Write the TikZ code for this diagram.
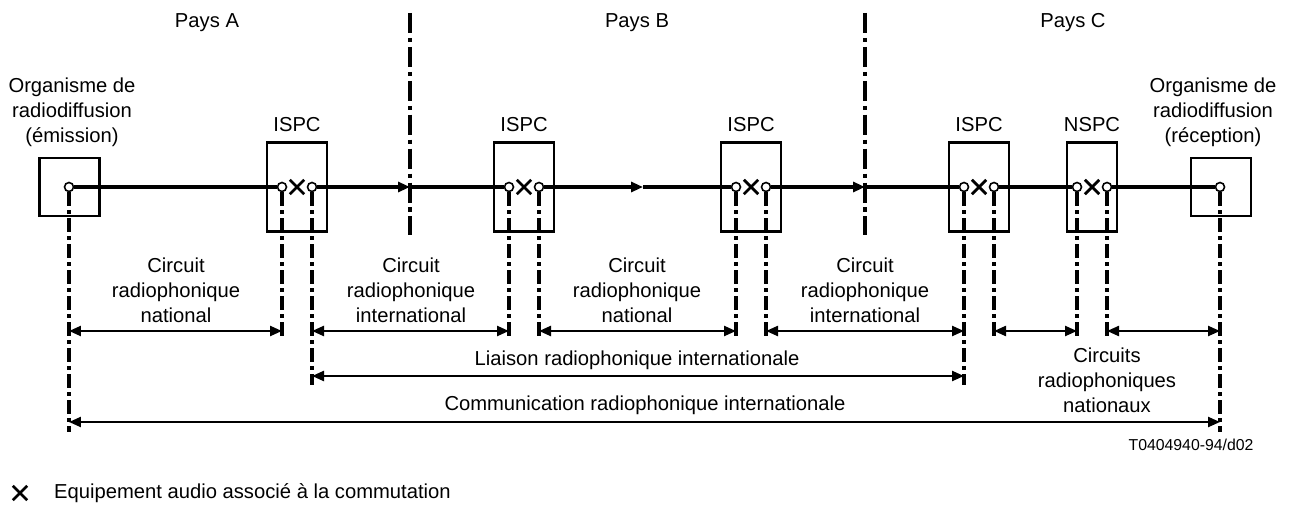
\documentclass[tikz,border=0pt]{standalone}
\usepackage{fontspec}
\setmainfont{Liberation Sans}
\usetikzlibrary{arrows.meta, shapes.misc}

\begin{document}
\begin{tikzpicture}[x=0.02cm, y=-0.02cm, >={Triangle[length=0.24cm,width=0.2cm]},
    font=\fontsize{11.5}{14.2}\selectfont,
    box/.style={draw, line width=1.3pt, minimum height=1.78cm, minimum width=1.2cm, inner sep=0},
    port/.style={circle, draw, fill=white, line width=0.9pt, minimum size=0.18cm, inner sep=0},
    swx/.style={cross out, draw, line width=1.6pt, minimum size=0.23cm, inner sep=0},
    trunk/.style={line width=2pt},
    drop/.style={line width=2pt, dash pattern=on 8pt off 2.2pt on 2.4pt off 2.2pt},
    border/.style={line width=2.7pt, dash pattern=on 11.4pt off 2.8pt on 2.3pt off 2.8pt},
    dim/.style={<->, line width=1.3pt},
    lbl/.style={align=center}]
    \useasboundingbox (0,0) rectangle (1300,506);
    \node (paysA) at (207,23) {Pays A};
    \node (paysB) at (637,23) {Pays B};
    \node (paysC) at (1073,23) {Pays C};
    \node[box, minimum height=1.16cm] (em) at (69.5,187) {};
    \node[port] (emo) at (69,187) {};
    \node[lbl] (em-t) at (72,112) {Organisme de\\radiodiffusion\\(émission)};
    \node[box, minimum height=1.16cm] (rc) at (1221,187) {};
    \node[port] (rco) at (1220,187) {};
    \node[lbl] (rc-t) at (1213,112) {Organisme de\\radiodiffusion\\(réception)};
    \foreach \n/\x/\w/\t in {i1/297/1.2/ISPC, i2/524/1.2/ISPC, i3/751/1.2/ISPC, i4/979/1.2/ISPC, n1/1092/1.0/NSPC} {
      \node[box, minimum width=\w cm] (\n) at (\x,187) {};
      \node (\n t) at (\x,125) {\t};
      \node[port] (\n a) at (\x-15,187) {};
      \node[port] (\n b) at (\x+15,187) {};
      \node[swx] (\n x) at (\x,187) {};
    }
    \coordinate (ab) at (410,187);
    \coordinate (mb) at (643,187);
    \coordinate (bc) at (865,187);
    \coordinate (ab-top) at (410,13);
    \coordinate (ab-bot) at (410,235);
    \coordinate (bc-top) at (865,13);
    \coordinate (bc-bot) at (865,235);
    \draw[border] (ab-top) -- (ab-bot);
    \draw[border] (bc-top) -- (bc-bot);
    \draw[trunk] (emo) -- (i1a);
    \draw[trunk,->] (i1b) -- (ab);
    \draw[trunk] (ab) -- (i2a);
    \draw[trunk,->] (i2b) -- (mb);
    \draw[trunk] (mb) -- (i3a);
    \draw[trunk,->] (i3b) -- (bc);
    \draw[trunk] (bc) -- (i4a);
    \draw[trunk] (i4b) -- (n1a);
    \draw[trunk] (n1b) -- (rco);
    \coordinate (r1) at (0,340);
    \coordinate (r2) at (0,385);
    \coordinate (r3) at (0,432);
    \foreach \p/\r in {emo/r3, i1a/r1, i1b/r2, i2a/r1, i2b/r1, i3a/r1, i3b/r1, i4a/r2, i4b/r1, n1a/r1, n1b/r1, rco/r3}
      \draw[drop] (\p) -- (\p |- \r);
    \coordinate (d1) at (0,331);
    \coordinate (d2) at (0,376);
    \coordinate (d3) at (0,422);
    \foreach \a/\b in {emo/i1a, i1b/i2a, i2b/i3a, i3b/i4a, i4b/n1a, n1b/rco}
      \draw[dim] (\a |- d1) -- (\b |- d1);
    \draw[dim] (i1b |- d2) -- (i4a |- d2);
    \draw[dim] (emo |- d3) -- (rco |- d3);
    \node[lbl] (c1) at (176,290) {Circuit\\radiophonique\\national};
    \node[lbl] (c2) at (411,290) {Circuit\\radiophonique\\international};
    \node[lbl] (c3) at (637,290) {Circuit\\radiophonique\\national};
    \node[lbl] (c4) at (865,290) {Circuit\\radiophonique\\international};
    \node[lbl] (c5) at (1107,380) {Circuits\\radiophoniques\\nationaux};
    \node (lia) at (637,360) {Liaison radiophonique internationale};
    \node (com) at (645,405) {Communication radiophonique internationale};
    \node[font=\fontsize{9}{11}\selectfont] (ref) at (1191,445) {T0404940-94/d02};
    \node[swx] (key) at (20,493) {};
    \node[anchor=west] (key-t) at (48,493) {Equipement audio associé à la commutation};
  \end{tikzpicture}
\end{document}
